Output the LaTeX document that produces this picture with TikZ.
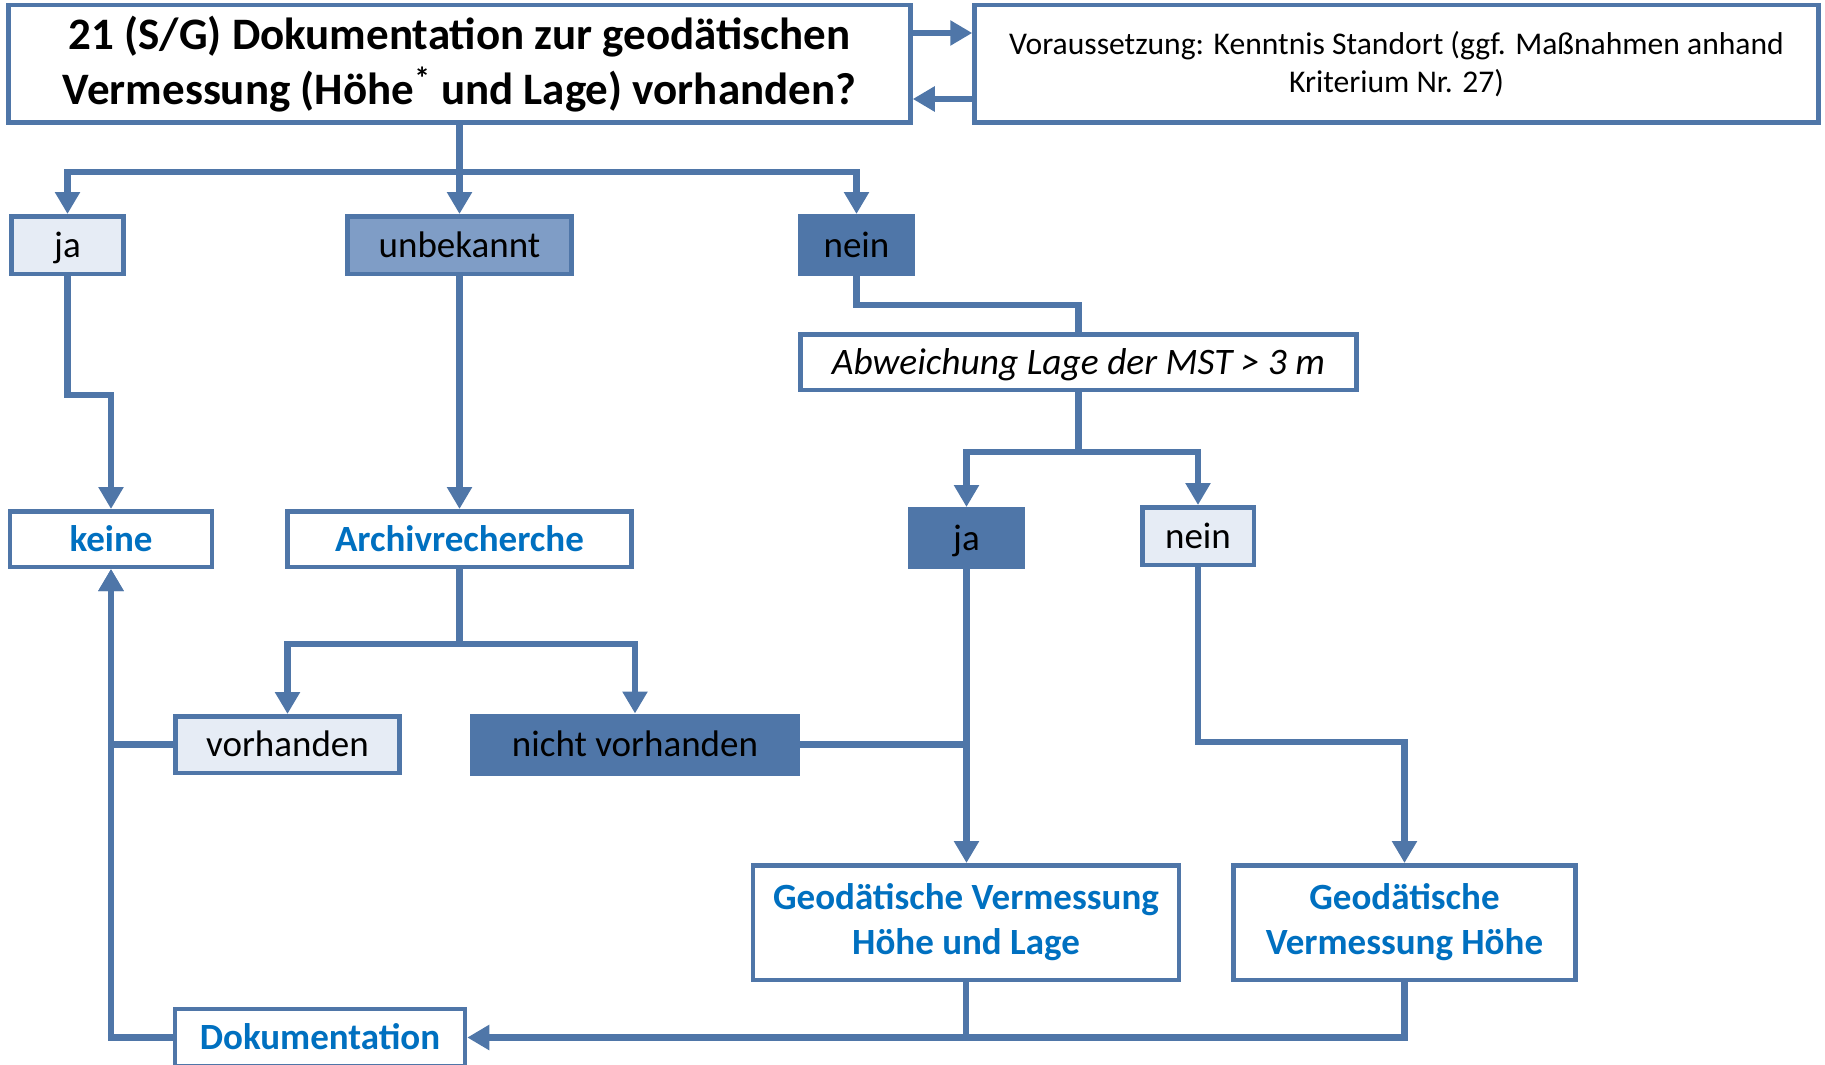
\documentclass[tikz,border=0pt]{standalone}
\usepackage{fontspec}
\setmainfont{Carlito}
\usepackage{tikz}
\usetikzlibrary{arrows.meta,positioning,calc}
\definecolor{linie}{RGB}{79,118,168}
\definecolor{mittel}{RGB}{127,157,198}
\definecolor{hell}{RGB}{230,236,245}
\definecolor{textblau}{RGB}{0,112,192}

\begin{document}
\begin{tikzpicture}[x=0.5pt,y=-0.5pt,
every node/.style={draw=linie,line width=2.25pt,fill=white,inner sep=0pt,align=center,text height=12.25pt,text depth=0pt,font=\fontsize{18.5}{22.5}\selectfont},
mehrzeilig/.style={text height=,text depth=},
hellbox/.style={fill=hell},
mittelbox/.style={fill=mittel},
dunkelbox/.style={fill=linie},
ziel/.style={text=textblau,font=\bfseries\fontsize{18.5}{22.5}\selectfont},
verb/.style={draw=linie,line width=3.25pt},
pfeil/.style={verb,-{Triangle[length=11pt,width=12pt]}}]
\useasboundingbox (0,0) rectangle (1825,1065);
\node (frage) [mehrzeilig,minimum width=451pt,minimum height=58.75pt,font=\bfseries\fontsize{22.5}{27.5}\selectfont] at (459.5,64) {21 (S/G) Dokumentation zur geodätischen\\Vermessung (Höhe\textsuperscript{*} und Lage) vorhanden?};
\node (vor) [mehrzeilig,minimum width=422pt,minimum height=58.75pt,font=\fontsize{15.8}{19}\selectfont] at (1396.5,64) {Voraussetzung: Kenntnis Standort (ggf. Maßnahmen anhand\\Kriterium Nr. 27)};
%
\node (ja1) [hellbox,minimum width=56pt,minimum height=28.75pt] at (67.5,245) {ja};
\node (unbek) [mittelbox,minimum width=112pt,minimum height=28.75pt] at (459.5,245) {unbekannt};
\node (nein1) [dunkelbox,minimum width=56pt,minimum height=28.75pt] at (856.5,245) {nein};
\node (abw) [minimum width=278pt,minimum height=27.75pt,font=\itshape\fontsize{18.7}{22}\selectfont] at (1078.5,362) {Abweichung Lage der MST > 3 m};
\node (ja2) [dunkelbox,minimum width=56pt,minimum height=28.75pt] at (966.5,538) {ja};
\node (nein2) [hellbox,minimum width=55.75pt,minimum height=28.75pt] at (1198,536) {nein};
%
\node (keine) [ziel,minimum width=101pt,minimum height=27.75pt] at (111,539) {keine};
\node (archiv) [ziel,minimum width=172pt,minimum height=27.75pt] at (459.5,539) {Archivrecherche};
\node (vorh) [hellbox,minimum width=112pt,minimum height=28.25pt] at (287.5,744.5) {vorhanden};
\node (nichtv) [dunkelbox,minimum width=163pt,minimum height=28.75pt] at (635,744.5) {nicht vorhanden};
\node (gvhl) [ziel,mehrzeilig,minimum width=213pt,minimum height=57.25pt] at (966,922.5) {Geodätische Vermessung\\Höhe und Lage};
\node (gvh) [ziel,mehrzeilig,minimum width=171pt,minimum height=57.25pt] at (1404.5,922.5) {Geodätische\\Vermessung Höhe};
\node (doku) [ziel,minimum width=145pt,minimum height=28.5pt] at (320,1037.5) {Dokumentation};
%
\draw[pfeil] ([yshift=15.5pt]frage.east) -- ([yshift=15.5pt]vor.west);
\draw[pfeil] ([yshift=-17.5pt]vor.west) -- ([yshift=-17.5pt]frage.east);
%
\draw[pfeil] (frage.south) -- ++(0,47) -| (ja1.north);
\draw[pfeil] (frage.south) -- (unbek.north);
\draw[pfeil] (frage.south) -- ++(0,47) -| (nein1.north);
%
\draw[pfeil] (ja1.south) -- ++(0,119) -| (keine.north);
\draw[pfeil] (unbek.south) -- (archiv.north);
\draw[verb] (nein1.south) -- ++(0,29) -| (abw.north);
%
\draw[pfeil] (abw.south) -- ++(0,60) -| (ja2.north);
\draw[pfeil] (abw.south) -- ++(0,60) -| (nein2.north);
\draw[pfeil] (archiv.south) -- ++(0,75) -| (vorh.north);
\draw[pfeil] (archiv.south) -- ++(0,75) -| (nichtv.north);
%
\draw[pfeil] (ja2.south) -- (ja2.south |- gvhl.north);
\draw[verb] (nichtv.east) -- (ja2.south |- nichtv.east);
\draw[pfeil] (nein2.south) -- ++(0,175) -| (gvh.north);
%
\draw[pfeil] (vorh.west) -| (keine.south);
\draw[pfeil] (doku.west) -| (keine.south);
\draw[pfeil] (gvh.south) |- (doku.east);
\draw[verb] (gvhl.south) -- (gvhl.south |- doku.east);
%
\end{tikzpicture}
\end{document}
